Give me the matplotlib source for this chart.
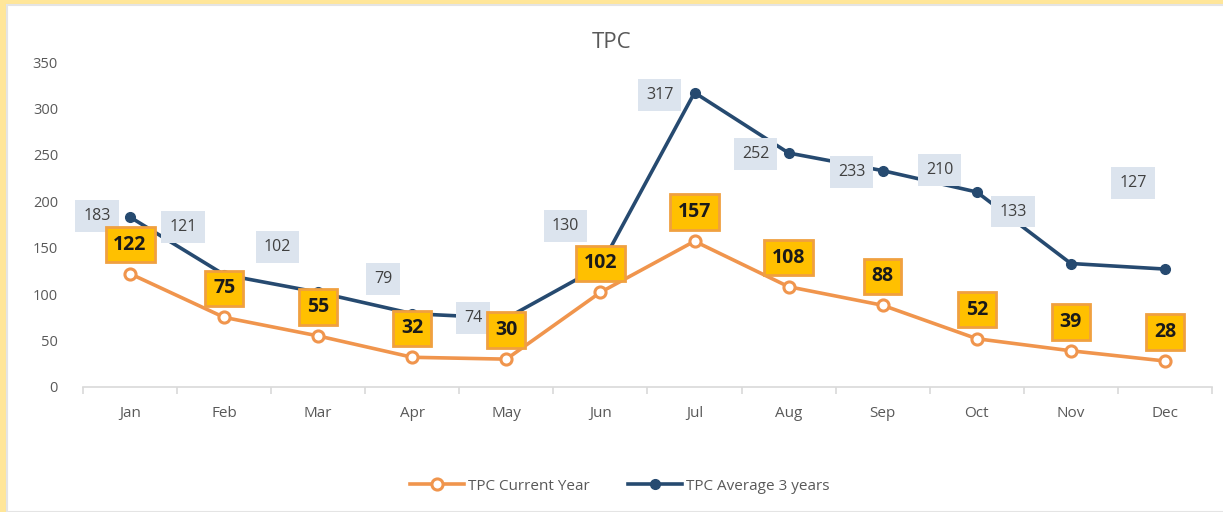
"""
TPC line chart: current year vs 3-year average.
"""

import matplotlib
matplotlib.use("Agg")
import matplotlib.pyplot as plt
from matplotlib.patches import Rectangle


MONTHS = ["Jan", "Feb", "Mar", "Apr", "May", "Jun",
          "Jul", "Aug", "Sep", "Oct", "Nov", "Dec"]
CURRENT_YEAR = [122, 75, 55, 32, 30, 102, 157, 108, 88, 52, 39, 28]
AVERAGE_3Y = [183, 121, 102, 79, 74, 130, 317, 252, 233, 210, 133, 127]

# label offsets (pixels) for the 3-year average labels, as placed in the original
AVG_LABEL_DX = [-33, -41, -41, -29, -33, -35, -35, -33, -31, -37, -58, -32]
AVG_LABEL_DY = [1, 48, 45, 35, 0, 40, -2, -1, -1, 22, 52, 86]

ORANGE = "#F0954D"
NAVY = "#264A70"
GREY = "#595959"


def main() -> None:
    plt.rcParams["font.family"] = ["Open Sans", "DejaVu Sans"]

    fig = plt.figure(figsize=(12.23, 5.12), dpi=100)
    fig.patch.set_facecolor("#FFE699")
    fig.patches.append(Rectangle((7 / 1223, 0), 1.0, 1 - 5 / 512,
                                 transform=fig.transFigure, facecolor="white",
                                 edgecolor="#E4E4E4", linewidth=1.5, zorder=-10))

    ax = fig.add_axes([83 / 1223, 1 - 387 / 512, 1129 / 1223, 325 / 512])
    ax.set_facecolor("none")
    x = list(range(len(MONTHS)))

    ax.plot(x, CURRENT_YEAR, color=ORANGE, linewidth=2.6, marker="o",
            markersize=8, markerfacecolor="white", markeredgewidth=2.2,
            label="TPC Current Year", zorder=3)
    ax.plot(x, AVERAGE_3Y, color=NAVY, linewidth=2.6, marker="o",
            markersize=7, label="TPC Average 3 years", zorder=3)

    for xi, v, dx, dy in zip(x, AVERAGE_3Y, AVG_LABEL_DX, AVG_LABEL_DY):
        ax.annotate(str(v), (xi, v), xytext=(dx, dy), textcoords="offset pixels",
                    ha="center", va="center", fontsize=11.5, color="#404040",
                    bbox=dict(boxstyle="square,pad=0.5", facecolor="#DCE4EE",
                              edgecolor="none"), zorder=5)

    for xi, v in zip(x, CURRENT_YEAR):
        ax.annotate(str(v), (xi, v), xytext=(0, 29), textcoords="offset pixels",
                    ha="center", va="center", fontsize=14, fontweight="bold",
                    color="#1A1A1A",
                    bbox=dict(boxstyle="square,pad=0.4", facecolor="#FFC000",
                              edgecolor="#F0A040", linewidth=2), zorder=6)

    ax.set_xlim(-0.5, len(MONTHS) - 0.5)
    ax.set_ylim(0, 350)
    ax.set_yticks(range(0, 351, 50))
    ax.set_xticks(x)
    ax.set_xticklabels(MONTHS)
    ax.set_xticks([i - 0.5 for i in range(len(MONTHS) + 1)], minor=True)

    for side in ["top", "right", "left"]:
        ax.spines[side].set_visible(False)
    ax.spines["bottom"].set_color("#D9D9D9")
    ax.spines["bottom"].set_linewidth(1.2)

    ax.tick_params(axis="x", which="major", length=0, pad=14,
                   labelsize=11, labelcolor=GREY)
    ax.tick_params(axis="x", which="minor", length=5, color="#D9D9D9", width=1.2)
    ax.tick_params(axis="y", length=0, pad=18, labelsize=10.5, labelcolor=GREY)

    fig.text(612 / 1223, 1 - 43 / 512, "TPC", ha="center", va="center",
             fontsize=16, color=GREY)

    fig.legend(loc="center", bbox_to_anchor=(620 / 1223, 1 - 486 / 512),
               ncol=2, frameon=False, fontsize=11, labelcolor=GREY,
               handlelength=3.5, columnspacing=2.5, handletextpad=0.3)

    fig.savefig("out.png", dpi=100, facecolor=fig.get_facecolor())


if __name__ == "__main__":
    main()
